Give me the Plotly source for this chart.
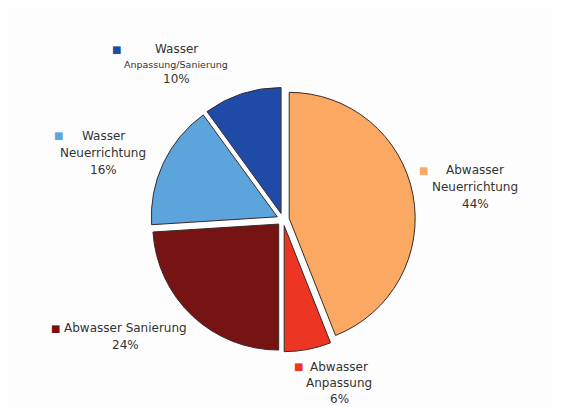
import plotly.graph_objects as go

# Data
categories = ["Abwasser Neuerrichtung", "Abwasser Anpassung", "Abwasser Sanierung",
              "Wasser Neuerrichtung", "Wasser Anpassung/Sanierung"]
label_lines = [["Abwasser", "Neuerrichtung"], ["Abwasser", "Anpassung"], ["Abwasser Sanierung"],
               ["Wasser", "Neuerrichtung"], ["Wasser", "Anpassung/Sanierung"]]
values = [44, 6, 24, 16, 10]

colors = ["#FAA862", "#EC3522", "#761313", "#5BA4DC", "#1F4AA8"]

W, H = 561, 407
OFF = 8  # page body margin

fig = go.Figure(go.Pie(
    labels=categories, values=values, sort=False, direction="clockwise", rotation=0,
    pull=[0.05] * len(values), textinfo="none", hoverinfo="label+percent",
    marker=dict(colors=colors, line=dict(color="#3a2a2a", width=1)),
    domain=dict(x=[0.2544, 0.7260], y=[0.1553, 0.8054]),
    showlegend=False,
))

# label layout in screen pixels: (square x, square y, text center x, first line y, line spacing, second-line font size)
label_pos = [
    (423, 170, 475, 170, 17, 12),
    (298, 366, 339, 367, 16, 12),
    (55, 328, 125, 328, 17, 12),
    (58, 136, 103, 136, 17, 12),
    (116, 49, 176, 49, 15, 9.5),
]

def px(x, y):
    return (x - OFF) / W, 1 - (y - OFF) / H

annotations = []
for i, (lines, v) in enumerate(zip(label_lines, values)):
    sx, sy, tx, ty, dy, fs2 = label_pos[i]
    ax, ay = px(sx, sy)
    annotations.append(dict(x=ax, y=ay, xref="paper", yref="paper", text="■", showarrow=False,
                            font=dict(size=10, color=colors[i], family="DejaVu Sans"),
                            xanchor="center", yanchor="middle"))
    all_lines = lines + [f"{v}%"]
    for j, t in enumerate(all_lines):
        fsize = fs2 if (j == 1 and len(all_lines) == 3) else 12
        lx, ly = px(tx, ty + j * dy)
        annotations.append(dict(x=lx, y=ly, xref="paper", yref="paper", text=t, showarrow=False,
                                font=dict(size=fsize, color="#333333", family="DejaVu Sans"),
                                xanchor="center", yanchor="middle"))

fig.update_layout(
    width=W, height=H, margin=dict(l=0, r=0, t=0, b=0),
    paper_bgcolor="#FDFDFD", plot_bgcolor="#FDFDFD",
    annotations=annotations,
)

fig.write_html("out.html")
